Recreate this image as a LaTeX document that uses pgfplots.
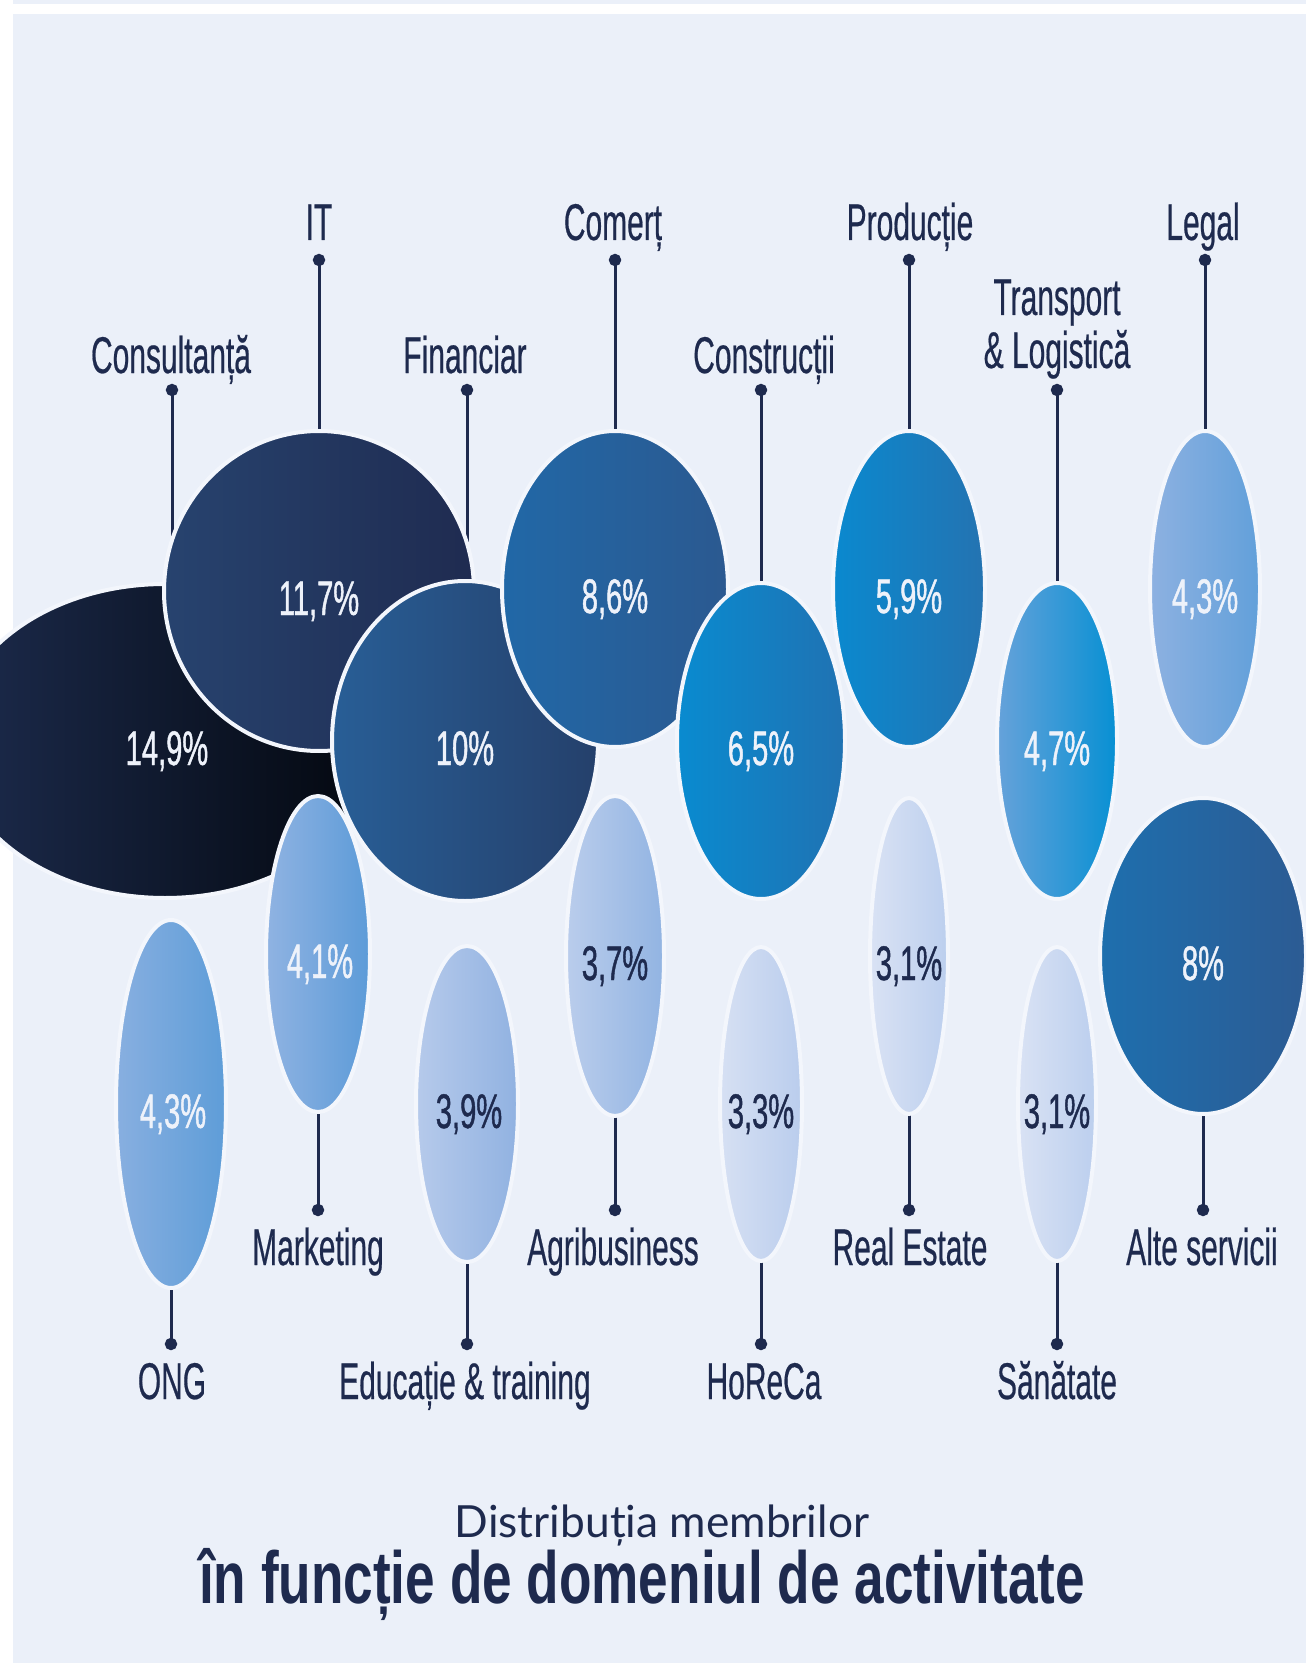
\documentclass[border=0pt]{standalone}
\usepackage{pgfplots}
\pgfplotsset{compat=1.18}
\usetikzlibrary{shapes.geometric}
\usepackage{fontspec}
\setmainfont{Liberation Sans}
\newfontfamily\cond{Liberation Sans}[FakeStretch=0.58, FakeBold=0.4]
\newfontfamily\pcfont{Liberation Sans}[FakeStretch=0.6, FakeBold=0.9]
\newfontfamily\titlefont{Liberation Sans}[FakeStretch=0.72]
\newfontfamily\lato{Lato}

\definecolor{bgc}{HTML}{EBF0F9}
\definecolor{navy}{HTML}{1E2A4E}
\definecolor{edge}{HTML}{F3F6FC}
\definecolor{light}{HTML}{EEF2FA}
% gradient ends, left / right
\definecolor{e1a}{HTML}{1C2B4D}\definecolor{e1b}{HTML}{03070E}
\definecolor{e2a}{HTML}{27436F}\definecolor{e2b}{HTML}{1F2B50}
\definecolor{e3a}{HTML}{285E96}\definecolor{e3b}{HTML}{25406B}
\definecolor{e4a}{HTML}{2168A7}\definecolor{e4b}{HTML}{2B5990}
\definecolor{e5a}{HTML}{098BD0}\definecolor{e5b}{HTML}{2072B2}
\definecolor{e6a}{HTML}{90B3E2}\definecolor{e6b}{HTML}{5C9BD8}
\definecolor{e7a}{HTML}{0A89CF}\definecolor{e7b}{HTML}{2473B1}
\definecolor{e8a}{HTML}{66A2DA}\definecolor{e8b}{HTML}{0790D3}
\definecolor{e9a}{HTML}{8DB1E1}\definecolor{e9b}{HTML}{62A0DA}
\definecolor{eAa}{HTML}{BACDEC}\definecolor{eAb}{HTML}{92B4E2}
\definecolor{eBa}{HTML}{D9E2F4}\definecolor{eBb}{HTML}{BCCFEE}
\definecolor{eCa}{HTML}{1E6FAE}\definecolor{eCb}{HTML}{2C5B93}
\definecolor{eDa}{HTML}{88AFE0}\definecolor{eDb}{HTML}{5E9DD8}
\definecolor{eEa}{HTML}{B6CAEB}\definecolor{eEb}{HTML}{91B2E1}
\definecolor{eFa}{HTML}{D6E0F3}\definecolor{eFb}{HTML}{BACDED}

% bubble: left colour, right colour, half width, half height (px)
\pgfplotsset{
    bubble/.style n args={4}{only marks, mark=none,
        nodes near coords={\relax},
        nodes near coords style={anchor=center, shape=ellipse, inner sep=0pt,
            minimum width=0.2mm*#3, minimum height=0.2mm*#4,
            left color=#1, right color=#2, draw=edge, line width=0.4mm}},
    pctlabel/.style={only marks, mark=none, point meta=explicit symbolic,
        nodes near coords,
        nodes near coords style={anchor=base, inner sep=0pt, text=#1,
            font=\pcfont\fontsize{13.8}{15}\selectfont}},
}

\begin{document}
\begin{tikzpicture}
\useasboundingbox (0,0) rectangle (130.6mm,166.3mm);
\fill[white] (0,0) rectangle (130.6mm,166.3mm);
\fill[bgc] (1.3mm,0) rectangle (130.6mm,164.9mm);
\fill[bgc] (1.3mm,165.9mm) rectangle (130.6mm,166.3mm);
\begin{scope}
\clip (0,0) rectangle (130.6mm,166.3mm);
\begin{axis}[
    at={(0,0)}, anchor=south west,
    scale only axis,
    width=130.6mm, height=166.3mm,
    xmin=0, xmax=1306, ymin=0, ymax=1663,
    y dir=reverse,
    hide axis,
    clip=false,
]
% connector lines
\addplot[navy, line width=0.3mm, mark=none, unbounded coords=jump] coordinates {
    (172,390) (172,545) (172,nan)
    (319,260) (319,591) (319,nan)
    (467,390) (467,545) (467,nan)
    (615,260) (615,589) (615,nan)
    (761,390) (761,741) (761,nan)
    (909,260) (909,589) (909,nan)
    (1057,390) (1057,741) (1057,nan)
    (1205,260) (1205,589) (1205,nan)
    (318,954) (318,1210) (318,nan)
    (615,956) (615,1210) (615,nan)
    (909,956) (909,1210) (909,nan)
    (1203,956) (1203,1210) (1203,nan)
    (171,1104) (171,1344) (171,nan)
    (467,1104) (467,1344) (467,nan)
    (761,1104) (761,1344) (761,nan)
    (1057,1104) (1057,1344)
};
% bubbles, back to front
\addplot[bubble={e1a}{e1b}{212}{157}] coordinates {(165,741)};   % Consultanta 14,9
\addplot[bubble={e2a}{e2b}{155}{160}] coordinates {(319,591)};   % IT 11,7
\addplot[bubble={e3a}{e3b}{133}{160}] coordinates {(465,741)};   % Financiar 10
\addplot[bubble={e4a}{e4b}{113}{158}] coordinates {(615,589)};   % Comert 8,6
\addplot[bubble={e5a}{e5b}{84}{158}] coordinates {(761,741)};    % Constructii 6,5
\addplot[bubble={e6a}{e6b}{52}{158}] coordinates {(318,954)};    % Marketing 4,1
\addplot[bubble={e7a}{e7b}{76}{158}] coordinates {(909,589)};    % Productie 5,9
\addplot[bubble={e8a}{e8b}{60}{158}] coordinates {(1057,741)};   % Transport 4,7
\addplot[bubble={e9a}{e9b}{55}{158}] coordinates {(1205,589)};   % Legal 4,3
\addplot[bubble={eAa}{eAb}{49}{160}] coordinates {(615,956)};    % Agribusiness 3,7
\addplot[bubble={eBa}{eBb}{39}{158}] coordinates {(909,956)};    % Real Estate 3,1
\addplot[bubble={eCa}{eCb}{103}{158}] coordinates {(1203,956)};  % Alte servicii 8
\addplot[bubble={eDa}{eDb}{55}{184}] coordinates {(171,1104)};   % ONG 4,3
\addplot[bubble={eEa}{eEb}{51}{158}] coordinates {(467,1104)};   % Educatie 3,9
\addplot[bubble={eFa}{eFb}{41}{157}] coordinates {(761,1104)};   % HoReCa 3,3
\addplot[bubble={eBa}{eBb}{39}{157}] coordinates {(1057,1104)};  % Sanatate 3,1
% dots
\addplot[only marks, mark=*, mark size=0.55mm, navy] coordinates {
    (172,390) (319,260) (467,390) (615,260) (761,390) (909,260) (1057,390) (1205,260)
    (318,1210) (615,1210) (909,1210) (1203,1210)
    (171,1344) (467,1344) (761,1344) (1057,1344)
};
% values (baseline positions)
\addplot[pctlabel=light] coordinates {
    (167,765) [14,9\%] (319,615) [11,7\%] (465,765) [10\%] (615,613) [8,6\%]
    (761,765) [6,5\%] (320,978) [4,1\%] (909,613) [5,9\%] (1057,765) [4,7\%]
    (1205,613) [4,3\%] (1203,980) [8\%] (173,1128) [4,3\%]
};
\addplot[pctlabel=navy] coordinates {
    (615,980) [3,7\%] (909,980) [3,1\%] (469,1128) [3,9\%]
    (761,1128) [3,3\%] (1057,1128) [3,1\%]
};
% category names
\addplot[only marks, mark=none, point meta=explicit symbolic,
    nodes near coords,
    nodes near coords style={anchor=base, inner sep=0pt, text=navy,
        font=\cond\fontsize{14.7}{16}\selectfont},
] coordinates {
    (319,240) [IT] (613,240) [Comerț] (910,240) [Producție] (1203,240) [Legal]
    (171,373) [Consultanță] (465,373) [Financiar] (764,373) [Construcții]
    (1057,315) [Transport] (1057,368) [\& Logistică]
    (318,1265) [Marketing] (613,1265) [Agribusiness] (910,1265) [Real Estate] (1202,1265) [Alte servicii]
    (172,1399) [ONG] (465,1399) [Educație \& training] (764,1399) [HoReCa] (1057,1399) [Sănătate]
};
\node[anchor=base, text=navy, inner sep=0pt, font=\lato\fontsize{12.6}{15}\selectfont]
    at (axis cs:662,1537) {Distribuția membrilor};
\node[anchor=base, text=navy, inner sep=0pt, font=\titlefont\bfseries\fontsize{21}{25}\selectfont]
    at (axis cs:642,1603) {în funcție de domeniul de activitate};
\end{axis}
\end{scope}
\end{tikzpicture}
\end{document}
